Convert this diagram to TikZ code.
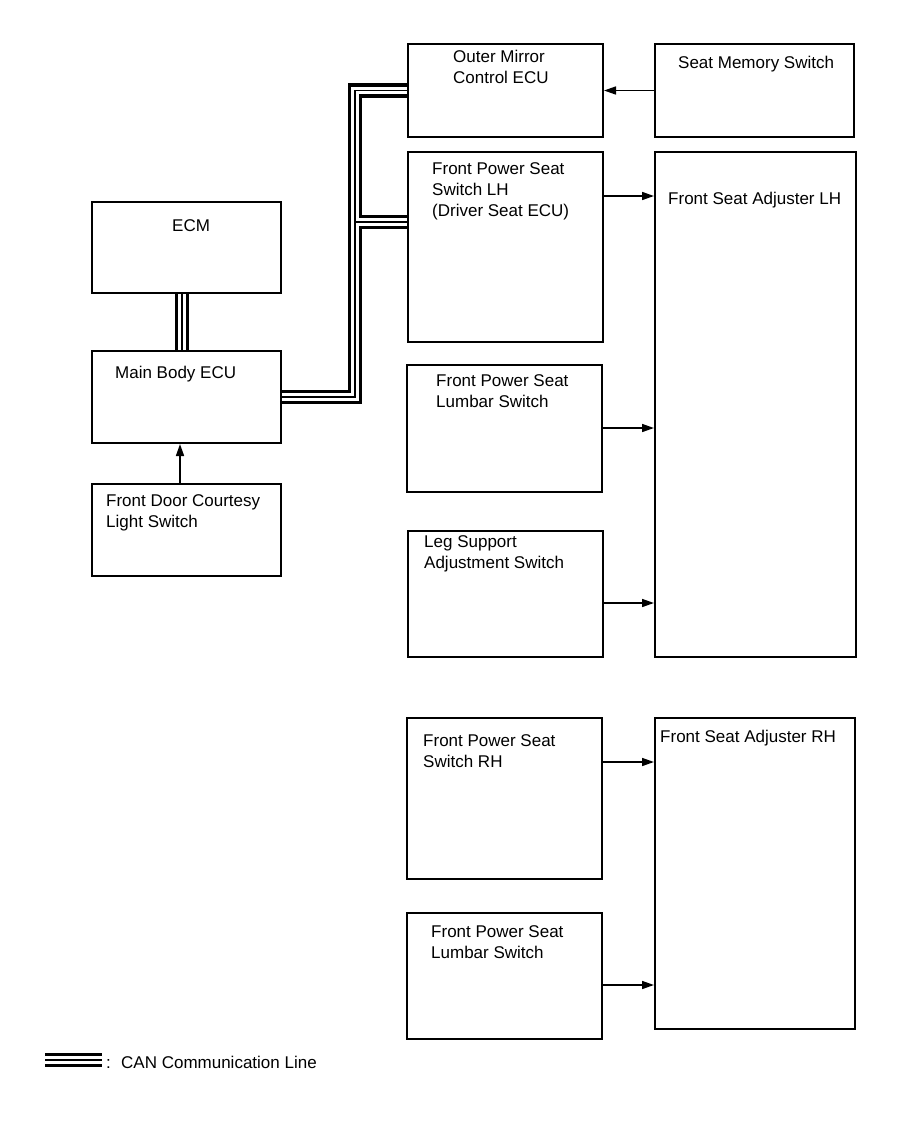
\documentclass[tikz,border=0pt]{standalone}
\usepackage{fontspec}
\setmainfont{Liberation Sans}
\usetikzlibrary{arrows.meta}
\newcommand\myTs{\rule{0pt}{13pt}}
\newcommand\canpaths[1]{%
  \draw[#1] (mbe.east) -- (j1) -- (j2) -- (mir.west);
  \draw[#1] (j3) -- (j3 -| swl.west);
  \draw[#1] (ecm.south -| 182,0) -- (mbe.north -| 182,0);
  \draw[#1] (lg1) -- (lg2);
}
\begin{document}
\begin{tikzpicture}[x=1pt,y=-1pt,
  box/.style={draw=black, line width=2pt, rectangle, inner sep=0pt},
  txt/.style={anchor=north west, inner sep=0pt, align=left, font=\fontsize{17}{21.2}\selectfont},
  arr/.style={line width=1.6pt, -{Triangle[length=12pt,width=8pt]}},
  canA/.style={line width=14.5pt, black, line join=miter, line cap=butt},
  canB/.style={line width=7.5pt, white, line join=miter, line cap=butt},
  canC/.style={line width=1.5pt, black, line join=miter, line cap=butt}]
\useasboundingbox[fill=white] (0,0) rectangle (907,1122);

% boxes
\node[box, minimum width=189pt, minimum height=91pt] (ecm) at (186.5,247.5) {};
\node[box, minimum width=189pt, minimum height=92pt] (mbe) at (186.5,397) {};
\node[box, minimum width=189pt, minimum height=92pt] (fdc) at (186.5,530) {};
\node[box, minimum width=195pt, minimum height=93pt] (mir) at (505.5,90.5) {};
\node[box, minimum width=199pt, minimum height=93pt] (smem) at (754.5,90.5) {};
\node[box, minimum width=195pt, minimum height=190pt] (swl) at (505.5,247) {};
\node[box, minimum width=201pt, minimum height=505pt] (adjl) at (755.5,404.5) {};
\node[box, minimum width=195pt, minimum height=127pt] (lumbl) at (504.5,428.5) {};
\node[box, minimum width=195pt, minimum height=126pt] (leg) at (505.5,594) {};
\node[box, minimum width=195pt, minimum height=161pt] (swr) at (504.5,798.5) {};
\node[box, minimum width=200pt, minimum height=311pt] (adjr) at (755,873.5) {};
\node[box, minimum width=195pt, minimum height=126pt] (lumbr) at (504.5,976) {};

% texts
\node[txt] (ecm-t) at (172,218) {\myTs ECM};
\node[txt] (mbe-t) at (115,365) {\myTs Main Body ECU};
\node[txt] (fdc-t) at (106,493) {\myTs Front Door Courtesy\\Light Switch};
\node[txt] (mir-t) at (453,49) {\myTs Outer Mirror\\Control ECU};
\node[txt] (smem-t) at (678,55) {\myTs Seat Memory Switch};
\node[txt] (swl-t) at (432,161) {\myTs Front Power Seat\\Switch LH\\(Driver Seat ECU)};
\node[txt] (adjl-t) at (668,191) {\myTs Front Seat Adjuster LH};
\node[txt] (lumbl-t) at (436,373) {\myTs Front Power Seat\\Lumbar Switch};
\node[txt] (leg-t) at (424,534) {\myTs Leg Support\\Adjustment Switch};
\node[txt] (swr-t) at (423,733) {\myTs Front Power Seat\\Switch RH};
\node[txt] (adjr-t) at (660,729) {\myTs Front Seat Adjuster RH};
\node[txt] (lumbr-t) at (431,924) {\myTs Front Power Seat\\Lumbar Switch};

% arrows
\draw[arr] (smem.west) -- (mir.east);
\draw[arr] (swl.east |- 0,196) -- (adjl.west |- 0,196);
\draw[arr] (lumbl.east |- 0,428) -- (adjl.west |- 0,428);
\draw[arr] (leg.east |- 0,603) -- (adjl.west |- 0,603);
\draw[arr] (swr.east |- 0,762) -- (adjr.west |- 0,762);
\draw[arr] (lumbr.east |- 0,985) -- (adjr.west |- 0,985);
\draw[arr] (fdc.north -| 180,0) -- (mbe.south -| 180,0);

% CAN lines
\coordinate (j1) at (355,397);
\coordinate (j2) at (355,90.5);
\coordinate (j3) at (355,222);
\coordinate (lg1) at (45,1060);
\coordinate (lg2) at (102,1060);
\canpaths{canA}
\canpaths{canB}
\canpaths{canC}

% legend
\node[txt] (lg-c) at (106,1055) {\myTs :};
\node[txt] (lg-t) at (121,1055) {\myTs CAN Communication Line};
\end{tikzpicture}
\end{document}
